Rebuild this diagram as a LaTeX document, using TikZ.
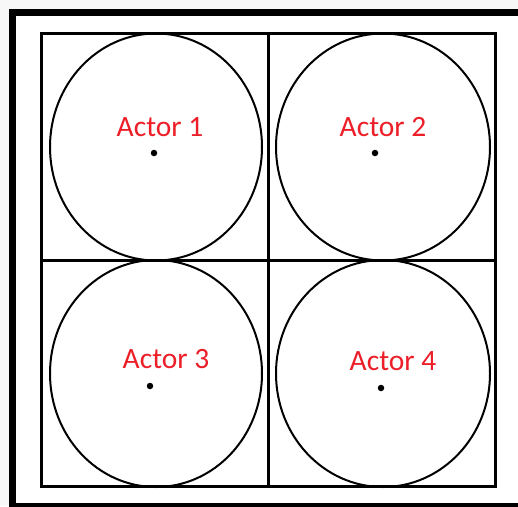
\documentclass[tikz,border=0pt]{standalone}
\usepackage{fontspec}
\setmainfont{Carlito}
\usetikzlibrary{shapes.geometric}
\definecolor{actred}{RGB}{236,30,40}
\begin{document}
\begin{tikzpicture}[x=1pt,y=-1pt,
  cell/.style={ellipse,draw=black,line width=2pt,minimum width=212pt,minimum height=227pt,inner sep=0pt},
  lbl/.style={text=actred,font=\fontsize{29.5}{30}\selectfont,inner sep=0pt,anchor=base},
  pt/.style={circle,fill=black,inner sep=0pt,minimum size=6.5pt}]
\useasboundingbox (0,0) rectangle (518,506);
\fill[gray!6] (0,0) rectangle (518,506);
\begin{scope}
\clip (0,0) rectangle (518,506);
\draw[line width=7pt,fill=white] (12.5,12.5) rectangle (522,506);
\end{scope}
\draw[line width=3pt] (41.5,33.5) rectangle (495.5,486.5);
\draw[line width=3pt] (268.5,33.5) -- (268.5,486.5);
\draw[line width=3pt] (41.5,260.5) -- (495.5,260.5);
\node[cell] (c1) at (156,147) {};
\node[cell,minimum width=214pt] (c2) at (383,147) {};
\node[cell] (c3) at (156,373.5) {};
\node[cell,minimum width=214pt] (c4) at (383,373.5) {};
\node[lbl] (l1) at (160,136) {Actor 1};
\node[lbl] (l2) at (383,136) {Actor 2};
\node[lbl] (l3) at (166,368) {Actor 3};
\node[lbl] (l4) at (393,370) {Actor 4};
\node[pt] (d1) at (154,153) {};
\node[pt] (d2) at (375,153) {};
\node[pt] (d3) at (150,386) {};
\node[pt] (d4) at (381,388) {};
\end{tikzpicture}
\end{document}
